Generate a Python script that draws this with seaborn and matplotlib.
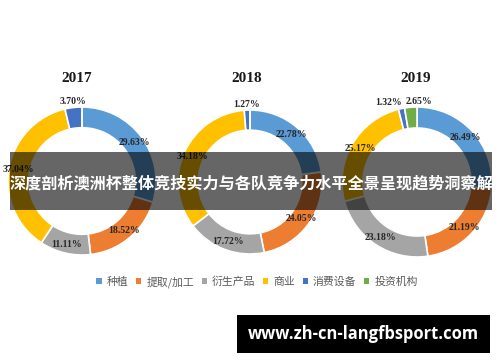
import numpy as np
import matplotlib
matplotlib.use("Agg")
import matplotlib.pyplot as plt
from matplotlib.patches import Patch, Rectangle
import seaborn as sns

# ---- data ----
years = ["2017", "2018", "2019"]
categories = ["种植", "提取/加工", "衍生产品", "商业", "消费设备", "投资机构"]
share_2017 = [29.63, 18.52, 11.11, 37.04, 3.70, 0.0]
share_2018 = [22.78, 24.05, 17.72, 34.18, 1.27, 0.0]
share_2019 = [26.49, 21.19, 23.18, 25.17, 1.32, 2.65]
banner_text = "深度剖析澳洲杯整体竞技实力与各队竞争力水平全景呈现趋势洞察解"
watermark = "www.zh-cn-langfbsport.com"

colors = ["#5B9BD5", "#ED7D31", "#A5A5A5", "#FFC000", "#4472C4", "#70AD47"]

sns.set_theme(style="white")
palette = sns.color_palette(colors)
plt.rcParams["font.family"] = ["Noto Sans CJK SC", "DejaVu Sans"]

W, H = 500, 362
fig = plt.figure(figsize=(W / 100, H / 100), dpi=100)
fig.patch.set_facecolor("white")

# donut geometry in pixels (cx, cy-from-top, radius) and title x
geoms = [(82, 181, 74, 77), (250, 182, 72, 247), (417, 182, 75, 416)]
series = [share_2017, share_2018, share_2019]

for year, vals, (cx, cy, r, tx) in zip(years, series, geoms):
    ax = fig.add_axes([(cx - r) / W, (H - cy - r) / H, 2 * r / W, 2 * r / H])
    ax.pie(vals, colors=palette, startangle=90, counterclock=False, radius=1.0,
           wedgeprops=dict(width=0.28, edgecolor="white", linewidth=1.2))
    ax.set_xlim(-1, 1)
    ax.set_ylim(-1, 1)
    ax.set_aspect("equal")
    ax.axis("off")

    vals = np.asarray(vals)
    cum = np.concatenate([[0], np.cumsum(vals)])
    small = (vals > 0) & (vals < 5)
    for i, v in enumerate(vals):
        if v <= 0:
            continue
        mid = np.deg2rad(90 - 3.6 * (cum[i] + v / 2))
        ha = "center"
        if small[i]:
            rr = 1.08
            nxt = i + 1 < len(vals) and small[i + 1]
            prv = i > 0 and small[i - 1]
            if nxt:
                mid = np.deg2rad(90 - 3.6 * cum[i + 1]) + 0.02
                ha = "right"
            elif prv:
                mid = np.deg2rad(90 - 3.6 * cum[i]) - 0.02
                ha = "left"
            x, y = rr * np.cos(mid), rr * np.sin(mid)
        else:
            rr = 0.88
            x, y = rr * np.cos(mid), rr * np.sin(mid)
        ax.text(x, y, f"{v:.2f}%", ha=ha, va="center", fontsize=7,
                fontweight="bold", family="Liberation Serif", color="#262626",
                clip_on=False)

    fig.text(tx / W, 1 - 78 / H, year, ha="center", va="center", fontsize=11,
             fontweight="bold", family="Liberation Serif", color="#1a1a1a")

# legend
handles = [Patch(facecolor=c, edgecolor="none") for c in palette]
fig.legend(handles, categories, loc="center", bbox_to_anchor=(257 / W, 1 - 282 / H),
           ncol=6, frameon=False, fontsize=7.8, handlelength=0.5, handleheight=0.5,
           handletextpad=0.45, columnspacing=0.7, labelcolor="#595959")

# overlay banner
fig.patches.append(Rectangle((10 / W, 1 - 210 / H), 482 / W, 58 / H,
                             transform=fig.transFigure, facecolor="black",
                             alpha=0.6, edgecolor="none", zorder=5))
fig.text(251 / W, 1 - 183 / H, banner_text, ha="center", va="center",
         fontsize=11.6, fontweight="bold", color="white", zorder=6,
         family=["Noto Sans CJK SC", "DejaVu Sans"])

# watermark box
fig.patches.append(Rectangle((237 / W, 1 - 353 / H), 253 / W, 38 / H,
                             transform=fig.transFigure, facecolor="black",
                             edgecolor="none", zorder=5))
fig.text(363 / W, 1 - 334 / H, watermark, ha="center", va="center",
         fontsize=11.9, fontweight="bold", color="white", zorder=6,
         family="Open Sans")

fig.savefig("out.png", dpi=100)
